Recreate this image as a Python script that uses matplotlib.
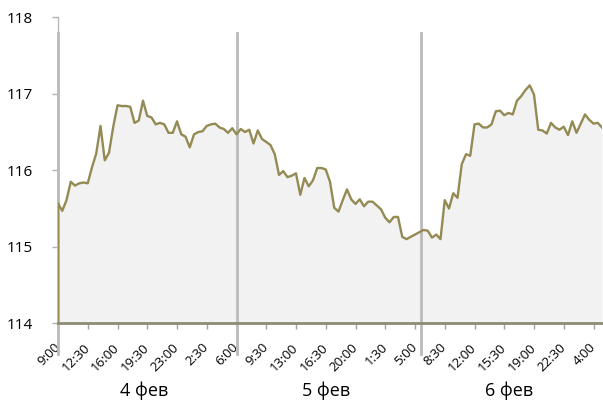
import numpy as np
import matplotlib
matplotlib.use('Agg')
import matplotlib.pyplot as plt
import matplotlib.transforms as mtransforms

plt.rcParams['font.family'] = ['Open Sans', 'DejaVu Sans']

# price every half hour (trading session), 4-6 feb
values = [115.565, 115.47, 115.61, 115.85, 115.80, 115.83, 115.84, 115.83, 116.04, 116.22,
          116.58, 116.13, 116.23, 116.57, 116.85, 116.84, 116.84, 116.83, 116.62, 116.65,
          116.91, 116.71, 116.69, 116.60, 116.62, 116.60, 116.49, 116.49, 116.64, 116.47,
          116.44, 116.30, 116.47, 116.50, 116.51, 116.58, 116.60, 116.61, 116.56, 116.54,
          116.49, 116.55, 116.47, 116.54, 116.50, 116.53, 116.35, 116.52, 116.41, 116.37,
          116.33, 116.21, 115.94, 115.99, 115.91, 115.93, 115.96, 115.68, 115.90, 115.79,
          115.87, 116.03, 116.03, 116.01, 115.85, 115.51, 115.46, 115.61, 115.75, 115.62,
          115.56, 115.62, 115.53, 115.59, 115.59, 115.54, 115.49, 115.38, 115.32, 115.39,
          115.39, 115.13, 115.10, 115.13, 115.16, 115.19, 115.22, 115.21, 115.12, 115.16,
          115.10, 115.61, 115.50, 115.70, 115.64, 116.08, 116.21, 116.19, 116.60, 116.61,
          116.56, 116.56, 116.60, 116.77, 116.78, 116.72, 116.75, 116.73, 116.91, 116.97,
          117.05, 117.11, 116.99, 116.53, 116.52, 116.48, 116.62, 116.56, 116.53, 116.57,
          116.46, 116.64, 116.49, 116.61, 116.73, 116.66, 116.61, 116.62, 116.56]

tick_labels = ['9:00', '12:30', '16:00', '19:30', '23:00', '2:30', '6:00', '9:30', '13:00',
               '16:30', '20:00', '1:30', '5:00', '8:30', '12:00', '15:30', '19:00', '22:30', '4:00']
tick_step = 7

days = ['4 фев', '5 фев', '6 фев']
day_bounds = [0, 42, 85.5, 128]

line_color = '#948a54'
sep_color = '#bababa'

x = np.arange(len(values))
y = np.array(values)
ymin = 114

fig = plt.figure(figsize=(6.03, 4.01), dpi=100)
ax = fig.add_axes([58 / 603, 0.1938, 544 / 603, 0.7631])

ax.fill_between(x, ymin, y, color='#f2f2f2', linewidth=0, zorder=1)
ax.plot(x, y, color=line_color, linewidth=1.7, zorder=4)
ax.vlines(x[0], ymin, y[0], color=line_color, linewidth=1.7, zorder=4)

# day separators, reaching down into the label area
trans = mtransforms.blended_transform_factory(ax.transData, ax.transAxes)
for b in day_bounds[:-1]:
    ax.plot([b, b], [-0.1, 0.949], color=sep_color, linewidth=2, transform=trans,
            clip_on=False, zorder=3)

for i, d in enumerate(days):
    c = (day_bounds[i] + day_bounds[i + 1]) / 2 - 0.7
    ax.text(c, -0.222, d, transform=trans, ha='center', va='center', fontsize=13)

ax.set_xlim(0, len(values) - 1)
ax.set_ylim(114, 118)
ax.set_yticks([114, 115, 116, 117, 118])
ax.set_xticks(x[::tick_step])
ax.set_xticklabels(tick_labels, rotation=45, ha='right', va='center',
                   rotation_mode='anchor', fontsize=9.5)

ax.tick_params(axis='y', direction='out', length=4, width=1, color='#b0b0b0',
               labelsize=11, pad=14)
ax.tick_params(axis='x', direction='out', length=4, width=1, color='#a0a0a0', pad=12)

for s in ['top', 'right']:
    ax.spines[s].set_visible(False)
ax.spines['left'].set_color('#b8b8b8')
ax.spines['left'].set_linewidth(1)
ax.spines['bottom'].set_color('#8e8a74')
ax.spines['bottom'].set_linewidth(2)
ax.spines['bottom'].set_zorder(5)

fig.savefig('out.png', dpi=100)
